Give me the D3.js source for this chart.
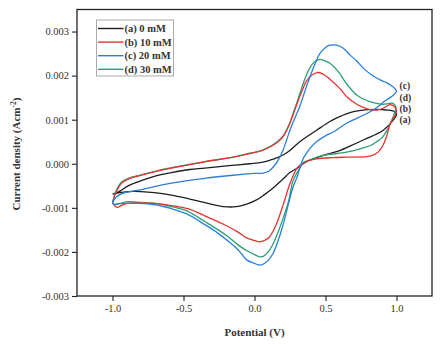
<!DOCTYPE html>
<html>
<head>
<meta charset="utf-8">
<script src="https://cdn.jsdelivr.net/npm/d3@7/dist/d3.min.js"></script>
<style>
  html, body { margin: 0; padding: 0; background: #fff; }
  svg { display: block; }
</style>
</head>
<body>
<svg id="chart" width="442" height="344"></svg>
<script>
// Cyclic voltammograms: potential (V) vs current density (A cm^-2), one closed loop per concentration.
// Each loop runs from -1.0 V forward to +1.0 V and back.

const seriesNames = ["(a) 0 mM", "(b) 10 mM", "(c) 20 mM", "(d) 30 mM"];
const endLabels = ["(a)", "(b)", "(c)", "(d)"];
const seriesColors = ["#1e1e1e", "#e5332f", "#2b7fd9", "#2a9f72"];

const potentialA = [-1.0, -0.97, -0.937, -0.89, -0.82, -0.7, -0.585, -0.456, -0.35, -0.2, -0.033, 0.05, 0.108, 0.16, 0.202, 0.249, 0.319, 0.437, 0.531, 0.6, 0.672, 0.75, 0.813, 0.93, 0.99, 1.0,
  0.977, 0.907, 0.766, 0.672, 0.6, 0.484, 0.367, 0.3, 0.249, 0.19, 0.131, 0.07, 0.014, -0.05, -0.104, -0.15, -0.22, -0.3, -0.35, -0.456, -0.585, -0.69, -0.8, -0.89, -0.96, -1.0];
const currentA = [-0.00069, -0.00066, -0.0006, -0.0005, -0.00041, -0.00028, -0.0002, -0.00013, -0.0001, -0.00005, 0.0, 0.00003, 0.00008, 0.00014, 0.0002, 0.0003, 0.0005, 0.00076, 0.00096, 0.00107, 0.00116, 0.00121, 0.00123, 0.00122, 0.00118, 0.00112,
  0.00099, 0.00076, 0.00054, 0.0004, 0.0003, 0.00019, 0.00005, -0.0001, -0.0002, -0.00038, -0.00055, -0.0007, -0.00082, -0.00091, -0.00096, -0.00098, -0.00097, -0.00092, -0.00088, -0.0008, -0.00071, -0.00066, -0.00063, -0.00063, -0.00066, -0.00069];

const potentialB = [-1.0, -0.975, -0.937, -0.88, -0.82, -0.7, -0.585, -0.35, -0.15, -0.033, 0.05, 0.108, 0.16, 0.202, 0.24, 0.272, 0.31, 0.343, 0.367, 0.4, 0.44, 0.48, 0.531, 0.6, 0.65, 0.72, 0.766, 0.813, 0.86, 0.907, 0.954, 0.985, 1.0,
  0.99, 0.966, 0.954, 0.93, 0.905, 0.872, 0.83, 0.79, 0.65, 0.55, 0.437, 0.35, 0.3, 0.25, 0.2, 0.15, 0.1, 0.037, 0.0, -0.056, -0.116, -0.2, -0.35, -0.47, -0.585, -0.7, -0.82, -0.9, -0.94, -0.962, -0.985, -1.0];
const currentB = [-0.00088, -0.00065, -0.00044, -0.00034, -0.00028, -0.00018, -0.0001, 0.000045, 0.00015, 0.00023, 0.0003, 0.00038, 0.00048, 0.00062, 0.00085, 0.00112, 0.00145, 0.00172, 0.00188, 0.002, 0.00207, 0.00204, 0.00192, 0.00171, 0.00152, 0.00135, 0.00128, 0.00123, 0.00122, 0.00126, 0.00134, 0.0013, 0.0012,
  0.0011, 0.00098, 0.0009, 0.00062, 0.00042, 0.00027, 0.00019, 0.00016, 0.00015, 0.00014, 0.00011, 0.00004, -0.0001, -0.00045, -0.00095, -0.0014, -0.00168, -0.00177, -0.00174, -0.00168, -0.00155, -0.0014, -0.00118, -0.00102, -0.00095, -0.0009, -0.00089, -0.0009, -0.00095, -0.00099, -0.00095, -0.00088];

const potentialC = [-1.0, -0.975, -0.93, -0.82, -0.585, -0.35, -0.15, 0.0, 0.061, 0.1, 0.131, 0.17, 0.2, 0.226, 0.26, 0.29, 0.319, 0.35, 0.39, 0.43, 0.46, 0.5, 0.531, 0.578, 0.625, 0.672, 0.72, 0.766, 0.836, 0.9, 0.93, 0.97, 0.99, 1.0,
  0.975, 0.954, 0.907, 0.883, 0.836, 0.766, 0.72, 0.649, 0.555, 0.508, 0.437, 0.39, 0.367, 0.343, 0.319, 0.3, 0.272, 0.24, 0.2, 0.16, 0.131, 0.1, 0.06, 0.037, 0.0, -0.056, -0.116, -0.2, -0.29, -0.35, -0.47, -0.585, -0.7, -0.82, -0.9, -0.96, -0.985, -1.0];
const currentC = [-0.00088, -0.00076, -0.00067, -0.0006, -0.00044, -0.00033, -0.00026, -0.00022, -0.00021, -0.00017, -0.00008, 0.0001, 0.0003, 0.00054, 0.00085, 0.00108, 0.0013, 0.0016, 0.00197, 0.0023, 0.0025, 0.00264, 0.00269, 0.00269, 0.00262, 0.00247, 0.00233, 0.00217, 0.00199, 0.00188, 0.00184, 0.00176, 0.0017, 0.00164,
  0.00155, 0.0015, 0.0014, 0.00133, 0.00122, 0.0011, 0.00103, 0.00092, 0.00072, 0.00065, 0.0005, 0.00035, 0.00024, 0.00012, -0.0001, -0.0003, -0.00052, -0.0009, -0.0014, -0.0018, -0.00203, -0.00218, -0.00228, -0.0023, -0.00226, -0.00218, -0.00195, -0.00172, -0.0015, -0.00138, -0.00115, -0.00102, -0.00093, -0.0009, -0.0009, -0.00091, -0.00093, -0.00088];

const potentialD = [-1.0, -0.975, -0.937, -0.88, -0.82, -0.7, -0.585, -0.35, -0.15, -0.033, 0.05, 0.108, 0.16, 0.202, 0.24, 0.272, 0.31, 0.343, 0.37, 0.402, 0.43, 0.46, 0.5, 0.531, 0.6, 0.625, 0.672, 0.72, 0.766, 0.813, 0.86, 0.907, 0.95, 0.975, 0.996,
  0.977, 0.955, 0.93, 0.9, 0.86, 0.82, 0.766, 0.7, 0.6, 0.484, 0.4, 0.343, 0.3, 0.27, 0.24, 0.2, 0.16, 0.131, 0.1, 0.06, 0.037, 0.0, -0.05, -0.116, -0.2, -0.35, -0.47, -0.585, -0.7, -0.82, -0.89, -0.95, -0.985, -1.0];
const currentD = [-0.0009, -0.00062, -0.00042, -0.00032, -0.00027, -0.00017, -0.00009, 0.00005, 0.00015, 0.00024, 0.0003, 0.00039, 0.0005, 0.00063, 0.00086, 0.00114, 0.0015, 0.00182, 0.00205, 0.00224, 0.00233, 0.00237, 0.00233, 0.00228, 0.00205, 0.00192, 0.00172, 0.00156, 0.00147, 0.00141, 0.00137, 0.00135, 0.00137, 0.00137, 0.00129,
  0.00107, 0.0009, 0.00074, 0.0006, 0.0005, 0.00042, 0.00036, 0.0003, 0.00024, 0.00019, 0.0001, 0.00001, -0.0002, -0.0004, -0.00085, -0.00125, -0.0016, -0.00182, -0.00198, -0.0021, -0.00211, -0.00206, -0.00198, -0.00184, -0.00162, -0.00131, -0.00108, -0.00097, -0.0009, -0.00087, -0.00086, -0.0009, -0.00092, -0.0009];

const xTicks = [-1.0, -0.5, 0.0, 0.5, 1.0];
const yTicks = [-0.003, -0.002, -0.001, 0.0, 0.001, 0.002, 0.003];

const potentials = [potentialA, potentialB, potentialC, potentialD];
const currents = [currentA, currentB, currentC, currentD];

const svg = d3.select("#chart");
const margin = { left: 77, right: 10, top: 9.5, bottom: 48 };
const W = 442, H = 344;
const plotW = W - margin.left - margin.right;
const plotH = H - margin.top - margin.bottom;

const x = d3.scaleLinear().domain([-1.25, 1.25]).range([margin.left, margin.left + plotW]);
const y = d3.scaleLinear().domain([-0.003, 0.0035]).range([margin.top + plotH, margin.top]);

const serif = "'Liberation Serif', 'Times New Roman', serif";

// Clip for the data curves
svg.append("defs").append("clipPath").attr("id", "plotClip")
  .append("rect").attr("x", margin.left).attr("y", margin.top).attr("width", plotW).attr("height", plotH);

// Curves
const line = d3.line()
  .x(d => x(d[0]))
  .y(d => y(d[1]))
  .curve(d3.curveCatmullRom.alpha(0.5));

// Draw order: black, green, red, blue
const drawOrder = [0, 3, 1, 2];
const curveG = svg.append("g").attr("clip-path", "url(#plotClip)");
drawOrder.forEach(i => {
  const pts = potentials[i].map((e, k) => [e, currents[i][k]]);
  curveG.append("path")
    .attr("d", line(pts))
    .attr("fill", "none")
    .attr("stroke", seriesColors[i])
    .attr("stroke-width", 1.3)
    .attr("stroke-linejoin", "round");
});

// Axes
const xAxis = d3.axisBottom(x).tickValues(xTicks).tickFormat(d3.format(".1f")).tickSize(5).tickPadding(4);
const yAxis = d3.axisLeft(y).tickValues(yTicks).tickFormat(d3.format(".3f")).tickSize(5).tickPadding(3);

const gx = svg.append("g").attr("transform", `translate(0,${margin.top + plotH})`).call(xAxis);
const gy = svg.append("g").attr("transform", `translate(${margin.left},0)`).call(yAxis);
[gx, gy].forEach(g => {
  g.select(".domain").remove();
  g.selectAll(".tick line").attr("stroke", "#222").attr("stroke-width", 1.1);
  g.selectAll(".tick text").attr("fill", "#333").style("font-family", serif).style("font-size", "10.5px");
});
gy.selectAll(".tick text").text(d => d < 0 ? "-" + d3.format(".3f")(-d) : d3.format(".3f")(d));
gx.selectAll(".tick text").text(d => d < 0 ? "-" + d3.format(".1f")(-d) : d3.format(".1f")(d));

// Frame
svg.append("rect")
  .attr("x", margin.left).attr("y", margin.top)
  .attr("width", plotW).attr("height", plotH)
  .attr("fill", "none").attr("stroke", "#222").attr("stroke-width", 1.3);

// Axis titles
svg.append("text")
  .attr("x", x(0)).attr("y", 336)
  .attr("text-anchor", "middle")
  .style("font-family", serif).style("font-size", "11px").style("font-weight", "bold")
  .attr("fill", "#333")
  .text("Potential (V)");

const yt = svg.append("text")
  .attr("transform", `translate(20,${y(0.00022)}) rotate(-90)`)
  .attr("text-anchor", "middle")
  .style("font-family", serif).style("font-size", "11px").style("font-weight", "bold")
  .attr("fill", "#333");
yt.append("tspan").text("Current density (Acm");
yt.append("tspan").attr("baseline-shift", "super").style("font-size", "7.5px").text("-2");
yt.append("tspan").text(")");

// Legend
const legX = 96.5, legY = 20;
const legend = svg.append("g");
legend.append("rect")
  .attr("x", legX).attr("y", legY).attr("width", 77).attr("height", 56)
  .attr("fill", "#fff").attr("stroke", "#aaa").attr("stroke-width", 1);
seriesNames.forEach((name, i) => {
  const ly = legY + 8.5 + i * 13.6;
  legend.append("line")
    .attr("x1", legX + 1.5).attr("x2", legX + 27)
    .attr("y1", ly).attr("y2", ly)
    .attr("stroke", seriesColors[i]).attr("stroke-width", 1.4);
  legend.append("text")
    .attr("x", legX + 28).attr("y", ly + 3.6)
    .style("font-family", serif).style("font-size", "10.5px").style("font-weight", "bold")
    .attr("fill", "#333")
    .text(name);
});

// End-of-scan labels beside the curves
const endLabelY = [0.001, 0.00125, 0.00178, 0.00151];
endLabels.forEach((lab, i) => {
  svg.append("text")
    .attr("x", 399.5).attr("y", y(endLabelY[i]) + 3.5)
    .style("font-family", serif).style("font-size", "9.5px").style("font-weight", "bold")
    .attr("fill", "#333")
    .text(lab);
});
</script>
</body>
</html>
